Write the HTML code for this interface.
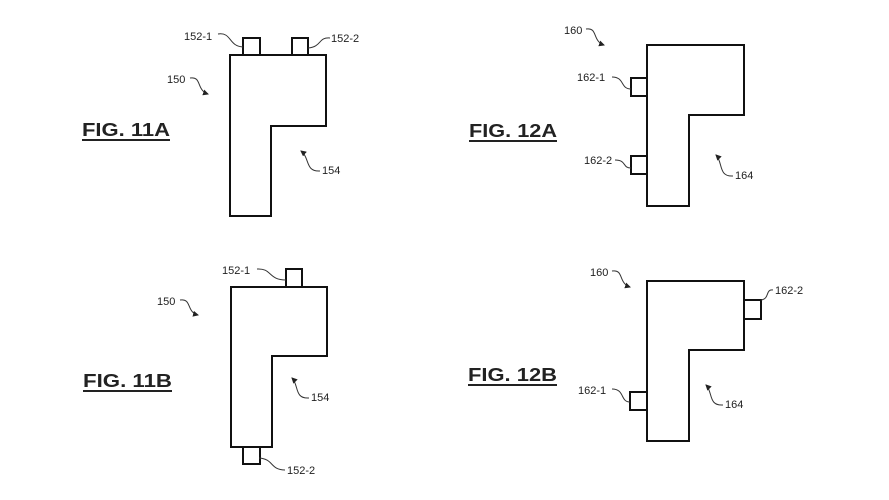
<!DOCTYPE html>
<html><head><style>html,body{margin:0;padding:0;background:#fff}svg{display:block}text{font-family:"Liberation Sans",Arial,sans-serif;fill:#222}</style></head>
<body>
<svg width="889" height="500" viewBox="0 0 889 500" xmlns="http://www.w3.org/2000/svg">
<defs><marker id="a" markerWidth="6" markerHeight="6" refX="5" refY="3" orient="auto"><path d="M0,0 L6,3 L0,6 z" fill="#222"/></marker></defs>
<g fill="none" stroke="#111" stroke-width="2">
<!-- 11A -->
<path d="M230,55 H326 V126 H271 V216 H230 Z"/>
<rect x="243" y="38" width="17" height="17"/><rect x="292" y="38" width="16" height="17"/>
<!-- 12A -->
<path d="M647,45 H744 V115 H689 V206 H647 Z"/>
<rect x="631" y="78" width="16" height="18"/><rect x="631" y="156" width="16" height="18"/>
<!-- 11B -->
<path d="M231,287 H327 V356 H272 V447 H231 Z"/>
<rect x="286" y="269" width="16" height="18"/><rect x="243" y="447" width="17" height="17"/>
<!-- 12B -->
<path d="M647,281 H744 V350 H689 V441 H647 Z"/>
<rect x="744" y="300" width="17" height="19"/><rect x="630" y="392" width="17" height="18"/>
</g>
<g fill="none" stroke="#333" stroke-width="1">
<path d="M218,34 C232,32 228,46 243,47"/>
<path d="M308,48 C322,47 318,37 330,38"/>
<path d="M190,78 C202,76 196,90 208,94" marker-end="url(#a)"/>
<path d="M320,171 C305,172 310,158 301,151" marker-end="url(#a)"/>
<path d="M586,29 C598,27 592,41 604,45" marker-end="url(#a)"/>
<path d="M612,77 C625,77 620,89 631,89"/>
<path d="M615,160 C627,160 622,168 631,168"/>
<path d="M733,176 C718,177 723,162 716,155" marker-end="url(#a)"/>
<path d="M257,269 C272,268 268,280 286,280"/>
<path d="M180,300 C192,298 186,312 198,315" marker-end="url(#a)"/>
<path d="M309,398 C294,399 299,385 292,378" marker-end="url(#a)"/>
<path d="M259,458 C274,459 270,470 285,470"/>
<path d="M612,271 C624,269 618,283 630,287" marker-end="url(#a)"/>
<path d="M761,300 C770,299 765,289 773,290"/>
<path d="M612,389 C625,389 620,402 630,402"/>
<path d="M723,405 C708,406 713,392 706,385" marker-end="url(#a)"/>
</g>
<g font-size="11">
<text x="184" y="40">152-1</text><text x="331" y="42">152-2</text>
<text x="167" y="83">150</text><text x="322" y="174">154</text>
<text x="564" y="34">160</text><text x="577" y="81">162-1</text>
<text x="584" y="164">162-2</text><text x="735" y="179">164</text>
<text x="222" y="274">152-1</text><text x="157" y="305">150</text>
<text x="311" y="401">154</text><text x="287" y="474">152-2</text>
<text x="590" y="276">160</text><text x="775" y="294">162-2</text>
<text x="578" y="394">162-1</text><text x="725" y="408">164</text>
</g>
<g font-size="18" font-weight="bold">
<text x="82" y="136" textLength="88" lengthAdjust="spacingAndGlyphs">FIG. 11A</text>
<text x="469" y="137" textLength="88" lengthAdjust="spacingAndGlyphs">FIG. 12A</text>
<text x="83" y="387" textLength="89" lengthAdjust="spacingAndGlyphs">FIG. 11B</text>
<text x="468" y="381" textLength="89" lengthAdjust="spacingAndGlyphs">FIG. 12B</text>
</g>
<g stroke="#222" stroke-width="2">
<line x1="82" y1="140" x2="170" y2="140"/><line x1="469" y1="141" x2="557" y2="141"/>
<line x1="83" y1="391" x2="172" y2="391"/><line x1="468" y1="385" x2="557" y2="385"/>
</g>
</svg>
</body></html>
